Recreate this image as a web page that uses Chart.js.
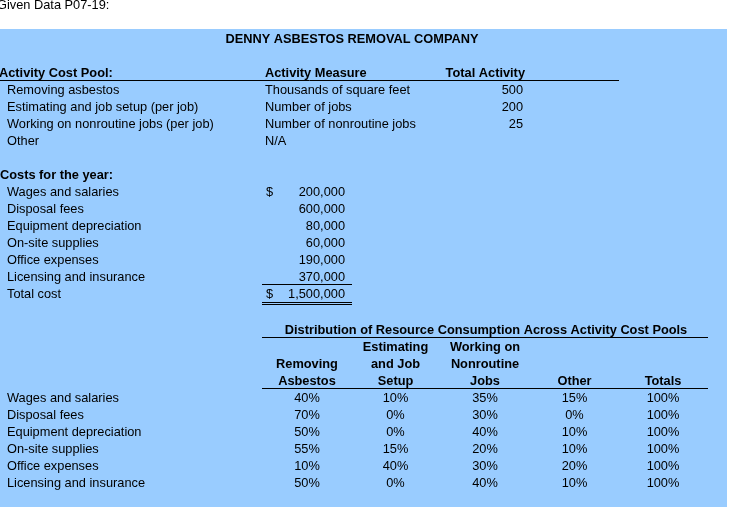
<!DOCTYPE html>
<html>
<head>
<meta charset="utf-8">
<script src="https://cdn.jsdelivr.net/npm/chart.js@4/dist/chart.umd.min.js"></script>
<style>
  html, body { margin: 0; padding: 0; background: #fff; }
  #c { display: block; }
</style>
</head>
<body>
<canvas id="c" width="742" height="515"></canvas>
<script>
// Datos de la hoja P07-19
const titulo = 'DENNY ASBESTOS REMOVAL COMPANY';
const poolsCosto = ['Removing asbestos', 'Estimating and job setup (per job)', 'Working on nonroutine jobs (per job)', 'Other'];
const medidas = ['Thousands of square feet', 'Number of jobs', 'Number of nonroutine jobs', 'N/A'];
const actividadTotal = [500, 200, 25, null];

const rubros = ['Wages and salaries', 'Disposal fees', 'Equipment depreciation', 'On-site supplies', 'Office expenses', 'Licensing and insurance'];
const costos = [200000, 600000, 80000, 60000, 190000, 370000];

const columnasDist = [['Removing', 'Asbestos'], ['Estimating', 'and Job', 'Setup'], ['Working on', 'Nonroutine', 'Jobs'], ['Other'], ['Totals']];
const pctRemoving = [40, 70, 50, 55, 10, 50];
const pctEstimating = [10, 0, 0, 15, 40, 0];
const pctNonroutine = [35, 30, 40, 20, 30, 40];
const pctOther = [15, 0, 10, 10, 20, 10];
const pctTotals = [100, 100, 100, 100, 100, 100];

// ── Layout (filas de 17px como en Excel) ─────────────────────────────
const FUENTE = '12.8px "Liberation Sans", Arial, sans-serif';
const FUENTE_B = 'bold 12.8px "Liberation Sans", Arial, sans-serif';
const rowY = n => 4.5 + 17 * n + (n >= 19 ? 2 : 0);
const int = n => new Intl.NumberFormat('en-US').format(n);

const sets = [];
function textos(items, x, filaIni, align, bold) {
  sets.push({
    type: 'scatter', pointRadius: 0, align, bold,
    data: items.map((t, i) => (t === null ? null : { x, y: rowY(filaIni + i), t: String(t) })).filter(p => p),
  });
}

textos(['Given Data P07-19:'], -3, 0, 'left', false);
textos([titulo], 352, 2, 'center', true);

textos(['Activity Cost Pool:'], -1, 4, 'left', true);
textos(poolsCosto, 7, 5, 'left', false);
textos(['Activity Measure'], 265, 4, 'left', true);
textos(medidas, 265, 5, 'left', false);
textos(['Total Activity'], 525, 4, 'right', true);
textos(actividadTotal.map(v => v === null ? null : int(v)), 523, 5, 'right', false);

const totalCosto = costos.reduce((a, b) => a + b, 0);
textos(['Costs for the year:'], 0, 10, 'left', true);
textos(rubros.concat(['Total cost']), 7, 11, 'left', false);
textos(['$'], 266, 11, 'left', false);
textos(['$'], 266, 17, 'left', false);
textos(costos.map(int).concat([int(totalCosto)]), 345, 11, 'right', false);

textos(['Distribution of Resource Consumption Across Activity Cost Pools'], 486, 19, 'center', true);
textos(rubros, 7, 23, 'left', false);
const centros = [307, 395.5, 485, 574.5, 663];
const series = [pctRemoving, pctEstimating, pctNonroutine, pctOther, pctTotals];
columnasDist.forEach((lineas, c) => {
  textos(lineas, centros[c], 23 - lineas.length, 'center', true);
  textos(series[c].map(v => v + '%'), centros[c], 23, 'center', false);
});

// líneas de la hoja: [x1, x2, y]
const lineas = [
  [0, 619, 80.5],
  [262, 352, 284.5],
  [262, 352, 302.5],
  [262, 352, 304.5],
  [262, 708, 337.5],
  [262, 708, 388.5],
];

const hojaPlugin = {
  id: 'hoja',
  beforeDraw(chart) {
    const { ctx, scales: { x, y } } = chart;
    ctx.save();
    ctx.fillStyle = '#99ccff';
    const x0 = x.getPixelForValue(0), x1 = x.getPixelForValue(727);
    const y0 = y.getPixelForValue(29), y1 = y.getPixelForValue(507);
    ctx.fillRect(x0, y0, x1 - x0, y1 - y0);
    ctx.strokeStyle = '#000';
    ctx.lineWidth = 1;
    lineas.forEach(([a, b, yy]) => {
      ctx.beginPath();
      ctx.moveTo(x.getPixelForValue(a), y.getPixelForValue(yy));
      ctx.lineTo(x.getPixelForValue(b), y.getPixelForValue(yy));
      ctx.stroke();
    });
    ctx.restore();
  },
  afterDatasetsDraw(chart) {
    const ctx = chart.ctx;
    ctx.save();
    ctx.fillStyle = '#000';
    ctx.textBaseline = 'middle';
    chart.data.datasets.forEach((ds, i) => {
      const meta = chart.getDatasetMeta(i);
      ctx.font = ds.bold ? FUENTE_B : FUENTE;
      ctx.textAlign = ds.align;
      meta.data.forEach((pt, j) => ctx.fillText(ds.data[j].t, pt.x, pt.y + 0.5));
    });
    ctx.restore();
  },
};

new Chart(document.getElementById('c'), {
  type: 'scatter',
  data: { datasets: sets },
  options: {
    responsive: false, animation: false, events: [],
    layout: { padding: 0 },
    plugins: { legend: { display: false }, tooltip: { enabled: false } },
    scales: {
      x: { type: 'linear', display: false, min: 0, max: 742 },
      y: { type: 'linear', display: false, min: 0, max: 515, reverse: true },
    },
  },
  plugins: [hojaPlugin],
});
</script>
</body>
</html>
